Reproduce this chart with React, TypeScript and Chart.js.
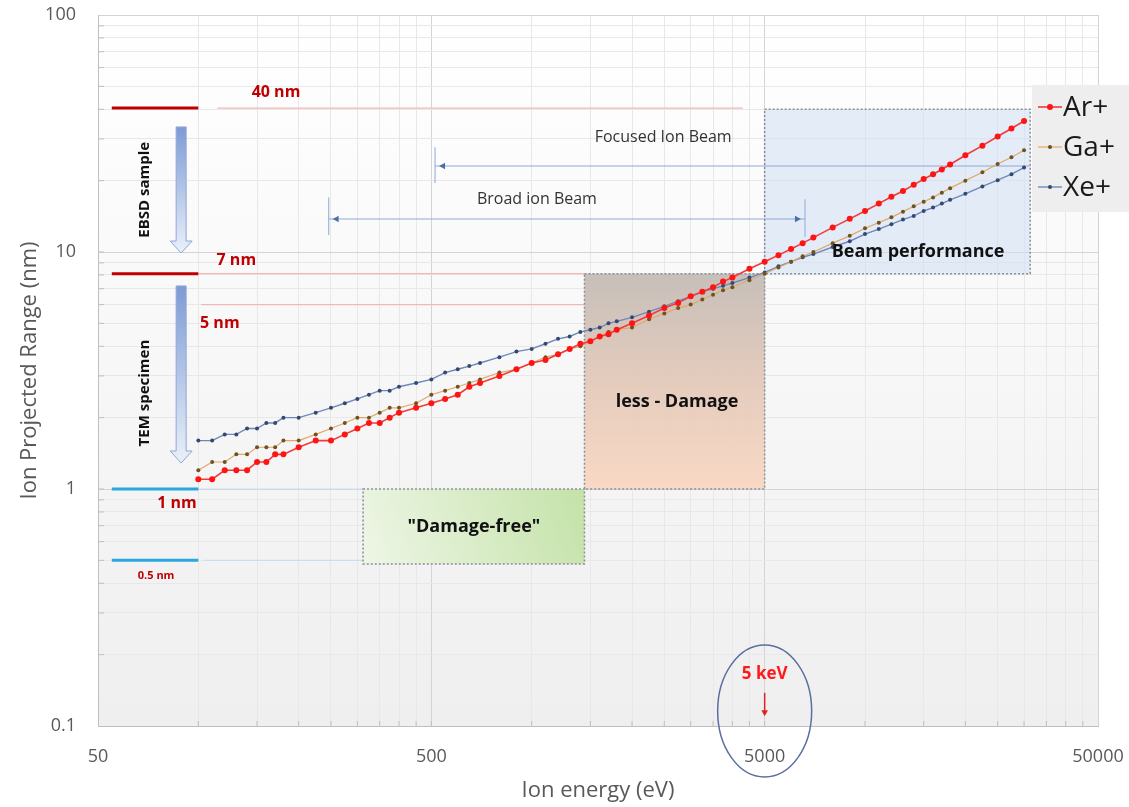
import React, { useEffect, useRef } from "react";
import { Chart, registerables } from "chart.js";

Chart.register(...registerables);

// ---------- data (SRIM-like projected range, nm) ----------
const energies = [
  100, 110, 120, 130, 140, 150, 160, 170, 180, 200, 225, 250, 275, 300, 325, 350, 375, 400, 450, 500,
  550, 600, 650, 700, 800, 900, 1000, 1100, 1200, 1300, 1400, 1500, 1600, 1700, 1800, 2000, 2250, 2500,
  2750, 3000, 3250, 3500, 3750, 4000, 4500, 5000, 5500, 6000, 6500, 7000, 8000, 9000, 10000, 11000,
  12000, 13000, 14000, 15000, 16000, 17000, 18000, 20000, 22500, 25000, 27500, 30000,
];
const arPlus = [
  1.1, 1.1, 1.2, 1.2, 1.2, 1.3, 1.3, 1.4, 1.4, 1.5, 1.6, 1.6, 1.7, 1.8, 1.9, 1.9, 2.0, 2.1, 2.2, 2.3,
  2.4, 2.5, 2.7, 2.8, 3.0, 3.2, 3.4, 3.5, 3.7, 3.9, 4.1, 4.2, 4.4, 4.5, 4.7, 5.0, 5.4, 5.8,
  6.1, 6.5, 6.8, 7.1, 7.5, 7.8, 8.5, 9.1, 9.7, 10.3, 10.9, 11.5, 12.7, 13.8, 14.9, 16.0,
  17.1, 18.1, 19.2, 20.3, 21.3, 22.3, 23.4, 25.6, 28.1, 30.7, 33.2, 35.7,
];
const gaPlus = [
  1.2, 1.3, 1.3, 1.4, 1.4, 1.5, 1.5, 1.5, 1.6, 1.6, 1.7, 1.8, 1.9, 2.0, 2.0, 2.1, 2.2, 2.2, 2.3, 2.5,
  2.6, 2.7, 2.8, 2.9, 3.1, 3.2, 3.4, 3.6, 3.7, 3.9, 4.0, 4.2, 4.4, 4.6, 4.7, 4.8, 5.2, 5.5,
  5.8, 6.0, 6.3, 6.6, 6.9, 7.1, 7.6, 8.1, 8.6, 9.1, 9.6, 10.0, 10.9, 11.7, 12.6, 13.3,
  14.0, 14.8, 15.6, 16.3, 17.0, 17.8, 18.6, 20.0, 21.7, 23.5, 25.1, 26.9,
];
const xePlus = [
  1.6, 1.6, 1.7, 1.7, 1.8, 1.8, 1.9, 1.9, 2.0, 2.0, 2.1, 2.2, 2.3, 2.4, 2.5, 2.6, 2.6, 2.7, 2.8, 2.9,
  3.1, 3.2, 3.3, 3.4, 3.6, 3.8, 3.9, 4.1, 4.3, 4.4, 4.6, 4.7, 4.8, 5.0, 5.1, 5.3, 5.6, 5.9,
  6.2, 6.5, 6.8, 7.0, 7.2, 7.4, 7.8, 8.2, 8.7, 9.1, 9.5, 9.8, 10.5, 11.1, 11.9, 12.5,
  13.1, 13.7, 14.2, 14.9, 15.4, 16.0, 16.6, 17.6, 18.9, 20.1, 21.3, 22.7,
];
const seriesLabels = ["Ar+", "Ga+", "Xe+"];
const xMajorTicks = [50, 500, 5000, 50000];
const yMajorTicks = [0.1, 1, 10, 100];
const xAxisTitle = "Ion energy (eV)";
const yAxisTitle = "Ion Projected Range (nm)";

// ---------- annotation values (energy eV / range nm) ----------
const depthMarks = [40.5, 8.1, 1.0, 0.5];
const depthMarkFrom = 55;
const depthMarkTo = 100;
const guideLines = [
  { nm: 40.5, from: 114, to: 4300, tone: "red" },
  { nm: 8.1, from: 100, to: 1440, tone: "red" },
  { nm: 6.0, from: 102, to: 1440, tone: "red" },
  { nm: 1.0, from: 100, to: 312, tone: "blue" },
  { nm: 0.5, from: 104, to: 312, tone: "blue" },
];
const depthLabels = [
  { text: "40 nm", e: 171, nm: 47.3, size: 16 },
  { text: "7 nm", e: 130, nm: 9.25, size: 16 },
  { text: "5 nm", e: 116, nm: 5.0, size: 16 },
  { text: "1 nm", e: 86.3, nm: 0.873, size: 16 },
  { text: "0.5 nm", e: 74.7, nm: 0.43, size: 11 },
];
const zones = [
  { name: "free", e0: 312, e1: 1440, nm0: 0.483, nm1: 1.0 },
  { name: "less", e0: 1440, e1: 5000, nm0: 1.0, nm1: 8.1 },
  { name: "perf", e0: 5000, e1: 31300, nm0: 8.1, nm1: 40 },
];
const zoneTexts = [
  { text: "\"Damage-free\"", e: 671, nm: 0.69 },
  { text: "less - Damage", e: 2730, nm: 2.33 },
  { text: "Beam performance", e: 14430, nm: 10.0 },
];
const beamRanges = [
  { text: "Focused Ion Beam", te: 2480, tnm: 30.3, nm: 23.06, e0: 513, e1: 31300, bars: [[513, 19.55, 27.7]], heads: [-1] },
  { text: "Broad ion Beam", te: 1037, tnm: 16.6, nm: 13.78, e0: 246, e1: 6605, bars: [[246, 11.8, 17.0], [6605, 11.6, 16.7]], heads: [-1, 1] },
];
const blockArrows = [
  { text: "EBSD sample", e: 88.8, top: 33.7, tip: 9.9, te: 69.2, tnm: 18.3 },
  { text: "TEM specimen", e: 88.8, top: 7.19, tip: 1.287, te: 69.2, tnm: 2.54 },
];
const keVMark = { text: "5 keV", e: 5000, tnm: 0.166, a0: 0.138, a1: 0.11, cnm: 0.1157 };

const seriesStyles = [
  { line: "#f23a3a", point: "#ff1414", r: 3, w: 1.6 },
  { line: "#e0a86c", point: "#6e5220", r: 2, w: 1.2 },
  { line: "#6f88ba", point: "#34496f", r: 2, w: 1.4 },
];

const buildLogTicks = (majors: number[]) => {
  const out: number[] = [];
  for (let i = 0; i < majors.length - 1; i++) {
    for (let k = 1; k < 10; k++) out.push(Number((majors[i] * k).toPrecision(6)));
  }
  out.push(majors[majors.length - 1]);
  return out;
};
const xTicks = buildLogTicks(xMajorTicks);
const yTicks = buildLogTicks(yMajorTicks);

const FONT = "'Open Sans', 'DejaVu Sans', sans-serif";

function arrowHead(ctx: CanvasRenderingContext2D, x: number, y: number, dx: number, dy: number, size: number, color: string) {
  ctx.save();
  ctx.fillStyle = color;
  ctx.beginPath();
  ctx.moveTo(x, y);
  const px = -dy, py = dx;
  ctx.lineTo(x - dx * size + px * size * 0.55, y - dy * size + py * size * 0.55);
  ctx.lineTo(x - dx * size - px * size * 0.55, y - dy * size - py * size * 0.55);
  ctx.closePath();
  ctx.fill();
  ctx.restore();
}

const annotationPlugin = {
  id: "ionAnnotations",
  beforeDraw(chart: any) {
    const { ctx, chartArea: a } = chart;
    ctx.save();
    const g = ctx.createLinearGradient(0, a.top, 0, a.bottom);
    g.addColorStop(0, "#ffffff");
    g.addColorStop(1, "#efefef");
    ctx.fillStyle = g;
    ctx.fillRect(a.left, a.top, a.right - a.left, a.bottom - a.top);
    ctx.restore();
  },
  beforeDatasetsDraw(chart: any) {
    const { ctx } = chart;
    const X = (v: number) => chart.scales.x.getPixelForValue(v);
    const Y = (v: number) => chart.scales.y.getPixelForValue(v);
    ctx.save();

    zones.forEach((z) => {
      const x0 = X(z.e0), x1 = X(z.e1), y0 = Y(z.nm1), y1 = Y(z.nm0);
      let fill: any;
      if (z.name === "free") {
        fill = ctx.createLinearGradient(x0, y1, x1, y0);
        fill.addColorStop(0, "#eef6e6");
        fill.addColorStop(1, "#c4e2a8");
      } else if (z.name === "less") {
        fill = ctx.createLinearGradient(0, y0, 0, y1);
        fill.addColorStop(0, "rgba(196,188,182,0.95)");
        fill.addColorStop(0.5, "rgba(226,200,184,0.92)");
        fill.addColorStop(1, "rgba(250,214,192,0.9)");
      } else {
        fill = "rgba(206,222,242,0.55)";
      }
      ctx.fillStyle = fill;
      ctx.fillRect(x0, y0, x1 - x0, y1 - y0);
    });

    guideLines.forEach((l) => {
      ctx.beginPath();
      ctx.strokeStyle = l.tone === "red" ? "#f2b8b8" : "#c9def0";
      ctx.lineWidth = 1.2;
      ctx.moveTo(X(l.from), Y(l.nm));
      ctx.lineTo(X(l.to), Y(l.nm));
      ctx.stroke();
    });

    zones.forEach((z) => {
      const x0 = X(z.e0), x1 = X(z.e1), y0 = Y(z.nm1), y1 = Y(z.nm0);
      ctx.save();
      ctx.setLineDash([2, 2]);
      ctx.strokeStyle = "#8a8f96";
      ctx.lineWidth = 1.5;
      ctx.strokeRect(x0, y0, x1 - x0, y1 - y0);
      ctx.restore();
    });

    beamRanges.forEach((b) => {
      const y = Y(b.nm);
      ctx.beginPath();
      ctx.strokeStyle = "#8fa8d6";
      ctx.lineWidth = 1.2;
      ctx.moveTo(X(b.e0), y);
      ctx.lineTo(X(b.e1), y);
      ctx.stroke();
      b.bars.forEach((bar) => {
        ctx.beginPath();
        ctx.strokeStyle = "#9fb6de";
        ctx.lineWidth = 1.2;
        ctx.moveTo(X(bar[0]), Y(bar[1]));
        ctx.lineTo(X(bar[0]), Y(bar[2]));
        ctx.stroke();
      });
      b.heads.forEach((d) => {
        const xe = d < 0 ? X(b.e0) + 4 : X(b.e1) - 4;
        arrowHead(ctx, xe, y, d, 0, 6, "#4f6ea8");
      });
    });

    ctx.restore();
  },
  afterDatasetsDraw(chart: any) {
    const { ctx, chartArea: a } = chart;
    const X = (v: number) => chart.scales.x.getPixelForValue(v);
    const Y = (v: number) => chart.scales.y.getPixelForValue(v);
    ctx.save();

    ctx.strokeStyle = "#bfbfbf";
    ctx.lineWidth = 1;
    chart.scales.x.ticks.forEach((t: any) => {
      const x = X(t.value);
      if (x <= a.left + 1 || x >= a.right - 1) return;
      ctx.beginPath();
      ctx.moveTo(x, a.bottom);
      ctx.lineTo(x, a.bottom - 5);
      ctx.stroke();
    });
    chart.scales.y.ticks.forEach((t: any) => {
      const y = Y(t.value);
      if (y <= a.top + 1 || y >= a.bottom - 1) return;
      ctx.beginPath();
      ctx.moveTo(a.left, y);
      ctx.lineTo(a.left + 6, y);
      ctx.stroke();
    });

    depthMarks.forEach((nm) => {
      ctx.beginPath();
      ctx.strokeStyle = nm > 5 ? "#c00000" : "#2aa6e0";
      ctx.lineWidth = 3;
      ctx.moveTo(X(depthMarkFrom), Y(nm));
      ctx.lineTo(X(depthMarkTo), Y(nm));
      ctx.stroke();
    });

    ctx.textAlign = "center";
    ctx.textBaseline = "middle";
    depthLabels.forEach((l) => {
      ctx.fillStyle = "#c00000";
      ctx.font = `bold ${l.size}px ${FONT}`;
      ctx.fillText(l.text, X(l.e), Y(l.nm));
    });

    blockArrows.forEach((b) => {
      const cx = X(b.e), yTop = Y(b.top), yTip = Y(b.tip);
      const sw = 5, hw = 11, hl = 12;
      const yNeck = yTip - hl;
      const g = ctx.createLinearGradient(0, yTop, 0, yTip);
      g.addColorStop(0, "#7d9bd4");
      g.addColorStop(1, "#eaf0f9");
      ctx.beginPath();
      ctx.moveTo(cx - sw, yTop);
      ctx.lineTo(cx + sw, yTop);
      ctx.lineTo(cx + sw, yNeck);
      ctx.lineTo(cx + hw, yNeck);
      ctx.lineTo(cx, yTip);
      ctx.lineTo(cx - hw, yNeck);
      ctx.lineTo(cx - sw, yNeck);
      ctx.closePath();
      ctx.fillStyle = g;
      ctx.fill();
      ctx.strokeStyle = "#8ea8d6";
      ctx.lineWidth = 1;
      ctx.stroke();

      ctx.save();
      ctx.translate(X(b.te), Y(b.tnm));
      ctx.rotate(-Math.PI / 2);
      ctx.fillStyle = "#111111";
      ctx.font = `bold 15px ${FONT}`;
      ctx.fillText(b.text, 0, 0);
      ctx.restore();
    });

    beamRanges.forEach((b) => {
      ctx.fillStyle = "#333333";
      ctx.font = `16px ${FONT}`;
      ctx.fillText(b.text, X(b.te), Y(b.tnm));
    });

    zoneTexts.forEach((t) => {
      ctx.fillStyle = "#111111";
      ctx.font = `bold 18px ${FONT}`;
      ctx.fillText(t.text, X(t.e), Y(t.nm));
    });

    const kx = X(keVMark.e);
    ctx.fillStyle = "#ff1a1a";
    ctx.font = `bold 17px ${FONT}`;
    ctx.fillText(keVMark.text, kx, Y(keVMark.tnm));
    ctx.beginPath();
    ctx.strokeStyle = "#e02020";
    ctx.lineWidth = 1.5;
    ctx.moveTo(kx, Y(keVMark.a0));
    ctx.lineTo(kx, Y(keVMark.a1) - 4);
    ctx.stroke();
    arrowHead(ctx, kx, Y(keVMark.a1), 0, 1, 6, "#e02020");
    ctx.beginPath();
    ctx.strokeStyle = "#5a6f9e";
    ctx.lineWidth = 1.5;
    ctx.ellipse(kx, Y(keVMark.cnm), 47, 66, 0, 0, Math.PI * 2);
    ctx.stroke();

    const lx = a.right - 66, ly = a.top + 70;
    ctx.fillStyle = "#eeeeee";
    ctx.fillRect(lx, ly, chart.width - lx, 127);
    seriesLabels.forEach((name, i) => {
      const cy = ly + 22 + i * 40;
      const st = seriesStyles[i];
      ctx.beginPath();
      ctx.strokeStyle = st.line;
      ctx.lineWidth = st.w;
      ctx.moveTo(lx + 6, cy);
      ctx.lineTo(lx + 30, cy);
      ctx.stroke();
      ctx.beginPath();
      ctx.fillStyle = st.point;
      ctx.arc(lx + 18, cy, st.r, 0, Math.PI * 2);
      ctx.fill();
      ctx.fillStyle = "#1a1a1a";
      ctx.font = `28px ${FONT}`;
      ctx.textAlign = "left";
      ctx.fillText(name, lx + 31, cy + 1);
    });

    ctx.restore();
  },
};

export default function App() {
  const canvasRef = useRef<HTMLCanvasElement | null>(null);

  useEffect(() => {
    document.body.style.margin = "0";
    const canvas = canvasRef.current;
    if (!canvas) return;
    const series = [arPlus, gaPlus, xePlus];
    const chart = new Chart(canvas, {
      type: "line",
      data: {
        datasets: series.map((vals, i) => ({
          label: seriesLabels[i],
          data: energies.map((e, j) => ({ x: e, y: vals[j] })),
          borderColor: seriesStyles[i].line,
          borderWidth: seriesStyles[i].w,
          pointRadius: seriesStyles[i].r,
          pointBackgroundColor: seriesStyles[i].point,
          pointBorderColor: seriesStyles[i].point,
          pointBorderWidth: 0,
          tension: 0,
        })),
      },
      options: {
        animation: false,
        responsive: false,
        events: [],
        layout: { padding: { left: 0, right: 31, top: 15, bottom: 0 }, autoPadding: false },
        plugins: { legend: { display: false }, tooltip: { enabled: false }, title: { display: false } },
        scales: {
          x: {
            type: "logarithmic",
            min: 50,
            max: 50000,
            afterBuildTicks: (s: any) => {
              s.ticks = xTicks.map((v) => ({ value: v }));
            },
            afterFit: (s: any) => {
              s.height = 81;
              s.paddingLeft = 0;
              s.paddingRight = 0;
              s.paddingTop = 0;
              s.paddingBottom = 0;
            },
            ticks: {
              autoSkip: false,
              maxRotation: 0,
              padding: 20,
              color: "#595959",
              font: { family: FONT, size: 18 },
              callback: (v: any) => (xMajorTicks.includes(Number(v)) ? String(v) : ""),
            },
            grid: {
              drawTicks: false,
              color: (c: any) => (c.tick && xMajorTicks.includes(c.tick.value) ? "#d4d4d4" : "#e8e8e8"),
            },
            border: { display: true, color: "#bfbfbf" },
            title: {
              display: true,
              text: xAxisTitle,
              color: "#595959",
              font: { family: FONT, size: 22 },
              padding: { top: 0, bottom: 3 },
            },
          },
          y: {
            type: "logarithmic",
            min: 0.1,
            max: 100,
            afterBuildTicks: (s: any) => {
              s.ticks = yTicks.map((v) => ({ value: v }));
            },
            afterFit: (s: any) => {
              s.width = 98;
              s.paddingLeft = 0;
              s.paddingRight = 0;
              s.paddingTop = 0;
              s.paddingBottom = 0;
            },
            ticks: {
              autoSkip: false,
              padding: 22,
              color: "#595959",
              font: { family: FONT, size: 18 },
              callback: (v: any) => (yMajorTicks.includes(Number(v)) ? String(v) : ""),
            },
            grid: {
              drawTicks: false,
              color: (c: any) => (c.tick && yMajorTicks.includes(c.tick.value) ? "#d4d4d4" : "#e8e8e8"),
            },
            border: { display: true, color: "#bfbfbf" },
            title: {
              display: true,
              text: yAxisTitle,
              color: "#595959",
              font: { family: FONT, size: 22 },
              padding: { top: 17, bottom: 0 },
            },
          },
        },
      },
      plugins: [annotationPlugin],
    } as any);
    return () => chart.destroy();
  }, []);

  return (
    <div style={{ width: 1129, height: 807, background: "#ffffff" }}>
      <canvas ref={canvasRef} width={1129} height={807} style={{ display: "block" }} />
    </div>
  );
}
